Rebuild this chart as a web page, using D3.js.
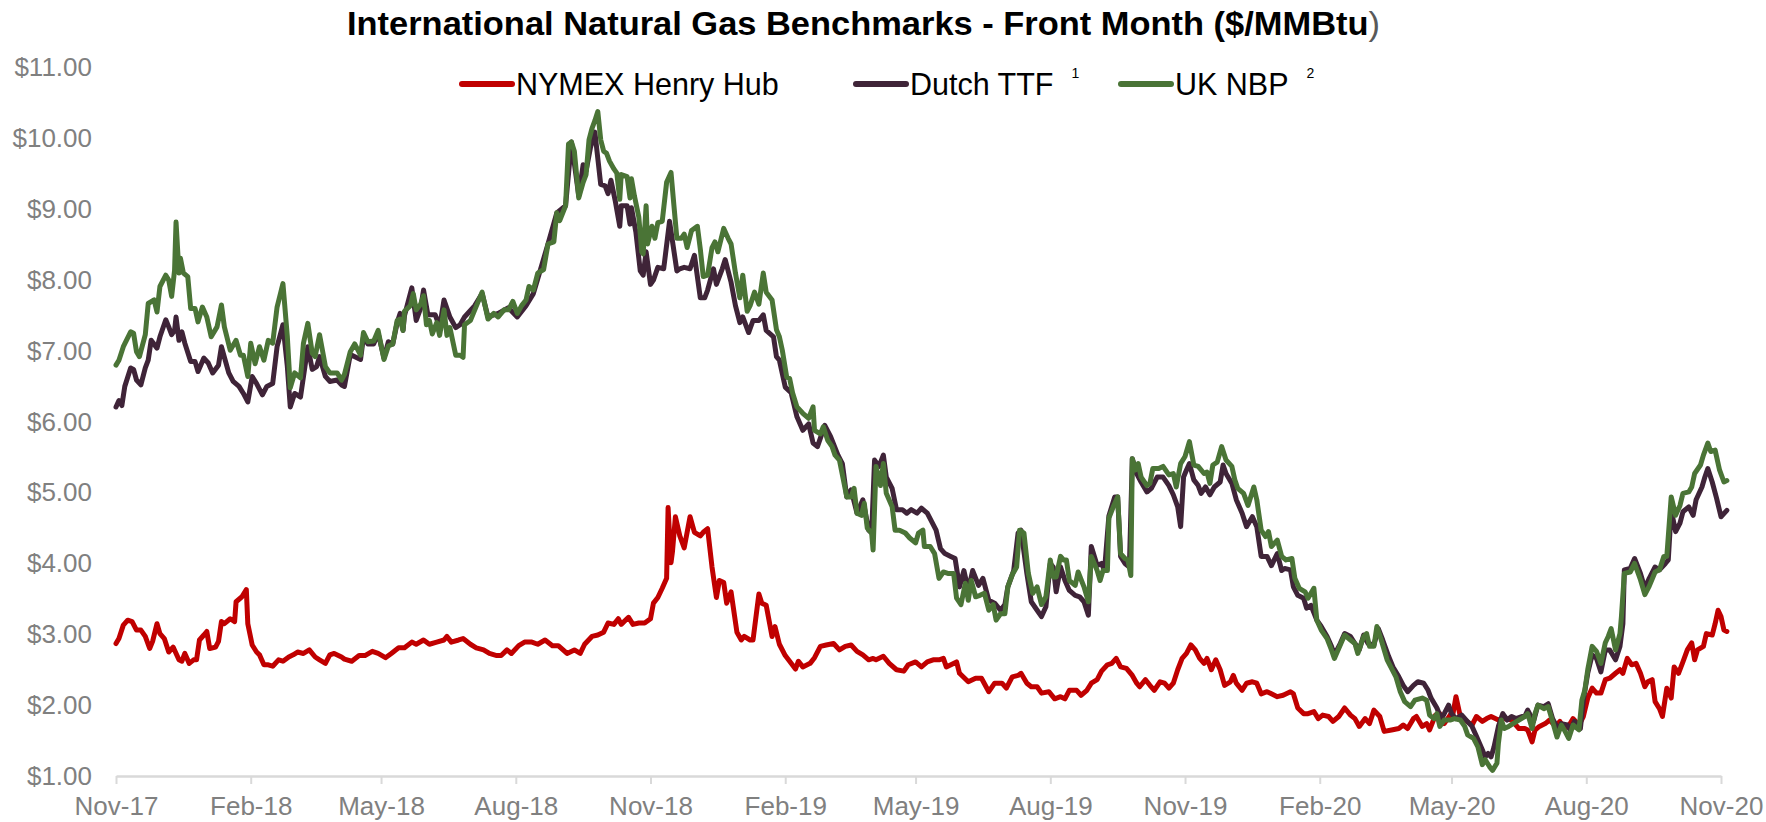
<!DOCTYPE html>
<html>
<head>
<meta charset="utf-8">
<script src="https://cdn.jsdelivr.net/npm/d3@7"></script>
<style>
  html, body { margin: 0; padding: 0; background: #ffffff; }
  svg { display: block; }
</style>
</head>
<body>
<svg id="chart" width="1766" height="822"></svg>
<script>
// ---------------- DATA ----------------
// x values are days since 2017-11-01 (start of the chart), y values in $/MMBtu
const startDate = "2017-11-01";
const xTickLabels = ["Nov-17","Feb-18","May-18","Aug-18","Nov-18","Feb-19","May-19","Aug-19","Nov-19","Feb-20","May-20","Aug-20","Nov-20"];
const yTickValues = [1,2,3,4,5,6,7,8,9,10,11];
const seriesNames = ["NYMEX Henry Hub", "Dutch TTF", "UK NBP"];
const seriesNotes = ["", "1", "2"];

const henryHub = [
[0,2.87],[2,2.94],[5,3.13],[8,3.20],[11,3.18],[14,3.06],[17,3.06],[20,2.97],[23,2.80],[25,2.90],[28,3.15],[30,3.01],[33,2.94],[36,2.75],[39,2.82],[43,2.64],[45,2.62],[47,2.73],[50,2.59],[53,2.64],[55,2.64],[57,2.92],[60,2.99],[62,3.04],[64,2.80],[68,2.82],[70,2.90],[72,3.18],[74,3.15],[78,3.22],[81,3.18],[82,3.46],[86,3.53],[89,3.63],[90,3.15],[93,2.85],[96,2.75],[98,2.71],[101,2.57],[104,2.57],[107,2.55],[111,2.64],[114,2.62],[118,2.68],[121,2.71],[124,2.75],[128,2.73],[132,2.78],[136,2.68],[139,2.64],[143,2.59],[146,2.71],[149,2.73],[154,2.68],
[156,2.65],[161,2.62],[166,2.70],[170,2.70],[175,2.76],[179,2.73],[184,2.67],[188,2.73],[193,2.81],[197,2.81],[202,2.89],[205,2.86],[210,2.92],[214,2.86],[219,2.89],[224,2.92],[226,2.97],[229,2.89],[234,2.92],[237,2.94],[242,2.86],[246,2.81],[251,2.78],[255,2.73],[260,2.70],[263,2.70],[267,2.78],[270,2.73],[275,2.84],[279,2.89],[284,2.89],[288,2.86],[293,2.92],[298,2.84],[302,2.84],[308,2.73],[313,2.78],[317,2.73],
[320,2.86],[325,2.97],[329,2.99],[333,3.03],[336,3.16],[340,3.14],[343,3.22],[345,3.14],[350,3.24],[353,3.14],[357,3.16],[361,3.16],[365,3.22],[367,3.44],[370,3.52],[373,3.65],[376,3.79],[377,4.79],[379,4.01],[380,4.17],[382,4.66],[385,4.39],[388,4.22],[392,4.66],[395,4.44],[399,4.39],[401,4.44],[404,4.49],[407,3.95],[410,3.52],[412,3.76],[415,3.73],[417,3.44],[420,3.60],[424,3.03],[427,2.92],[429,2.97],[433,2.92],[435,2.92],[439,3.57],[441,3.44],[444,3.41],[448,2.97],[450,3.11],[453,2.86],[457,2.70],[460,2.62],[464,2.51],[466,2.62],[469,2.54],[474,2.59],[477,2.67],
[481,2.83],[485,2.85],[490,2.87],[494,2.78],[498,2.83],[502,2.85],[506,2.76],[510,2.71],[514,2.64],[517,2.66],[519,2.64],[524,2.69],[528,2.59],[533,2.50],[538,2.48],[541,2.57],[546,2.61],[550,2.54],[554,2.61],[558,2.64],[562,2.64],[565,2.66],[567,2.54],[574,2.61],[576,2.45],[582,2.33],[587,2.38],[591,2.38],[596,2.19],[600,2.31],[605,2.31],[608,2.24],[612,2.40],[616,2.42],[618,2.45],[622,2.31],[625,2.26],[629,2.26],[632,2.17],[637,2.19],
[641,2.09],[645,2.12],[648,2.09],[651,2.21],[656,2.21],[659,2.14],[663,2.21],[666,2.31],[670,2.36],[673,2.48],[677,2.57],[680,2.59],[683,2.66],[686,2.54],[690,2.52],[694,2.42],[697,2.31],[699,2.26],[703,2.36],[706,2.28],[709,2.21],[713,2.33],[716,2.31],[719,2.24],[722,2.31],[725,2.50],[728,2.66],[731,2.73],[734,2.85],[737,2.78],[740,2.66],[743,2.59],[745,2.66],[748,2.50],[751,2.64],[754,2.50],[757,2.28],[761,2.33],[763,2.42],[765,2.31],[769,2.21],[772,2.31],[776,2.33],[779,2.31],[782,2.16],[786,2.19],[789,2.16],[793,2.12],[797,2.14],
[802,2.19],[804,2.16],[807,1.96],[811,1.88],[814,1.88],[818,1.91],[821,1.81],[824,1.86],[828,1.84],[831,1.77],[835,1.84],[839,1.96],[843,1.86],[846,1.81],[849,1.70],[853,1.81],[856,1.74],[859,1.93],[863,1.84],[866,1.63],[871,1.65],[876,1.67],[879,1.72],[882,1.67],[886,1.81],[888,1.84],[892,1.70],[895,1.74],[897,1.65],[901,1.86],[904,1.88],[907,1.74],[911,1.86],[913,1.88],[915,2.12],[918,1.84],[921,1.79],[926,1.72],[929,1.84],[933,1.77],[936,1.81],[939,1.84],[944,1.79],[948,1.81],[953,1.79],[958,1.67],
[962,1.67],[964,1.65],[967,1.48],[969,1.65],[972,1.70],[976,1.74],[979,1.79],[983,1.70],[986,1.77],[989,1.67],[993,1.74],[995,1.81],[999,1.72],[1002,1.84],[1005,2.10],[1008,2.24],[1011,2.17],[1014,2.17],[1017,2.36],[1020,2.38],[1024,2.45],[1027,2.50],[1029,2.45],[1032,2.66],[1035,2.57],[1038,2.59],[1041,2.45],[1044,2.26],[1046,2.33],[1049,2.36],[1051,2.05],[1054,1.95],[1056,1.84],[1059,2.24],[1062,2.10],[1064,2.54],[1067,2.45],[1070,2.61],[1073,2.78],[1076,2.88],[1078,2.64],[1080,2.78],[1084,2.83],[1086,3.01],[1090,2.99],[1092,3.15],[1094,3.34],[1096,3.25],[1098,3.06],[1100,3.04]
];

const dutchTTF = [
[0,6.21],[2,6.30],[4,6.23],[6,6.50],[10,6.76],[12,6.74],[14,6.59],[17,6.52],[20,6.76],[22,6.87],[24,7.15],[28,7.04],[30,7.20],[34,7.44],[36,7.34],[38,7.23],[40,7.29],[41,7.48],[43,7.15],[45,7.27],[47,7.11],[51,6.85],[54,6.85],[56,6.71],[60,6.90],[63,6.83],[66,6.69],[70,6.80],[72,7.06],[77,6.69],[80,6.57],[84,6.50],[87,6.40],[90,6.28],[93,6.64],[96,6.54],[100,6.38],[103,6.50],[107,6.54],[110,7.06],[114,7.37],[117,6.78],[119,6.21],[122,6.40],[126,6.35],[129,6.78],[131,7.06],[134,6.74],[137,6.78],[139,6.92],[143,6.64],[146,6.57],[151,6.59],[154,6.52],
[156,6.50],[160,6.95],[167,6.88],[169,7.20],[172,7.10],[176,7.10],[179,7.25],[183,6.90],[186,7.13],[189,7.10],[192,7.40],[194,7.53],[196,7.29],[197,7.50],[202,7.89],[205,7.43],[208,7.60],[210,7.86],[213,7.51],[218,7.51],[221,7.34],[224,7.72],[228,7.48],[232,7.33],[235,7.37],[238,7.48],[245,7.64],[250,7.81],[254,7.48],[261,7.53],[268,7.61],[274,7.48],[280,7.64],[285,7.81],[288,8.02],[295,8.51],[301,8.95],[307,9.05],[311,9.95],[316,9.19],
[319,9.63],[321,9.54],[324,9.87],[327,10.09],[331,9.35],[334,9.33],[336,9.22],[338,9.41],[341,9.11],[344,8.76],[345,9.05],[349,9.05],[351,8.79],[352,9.02],[355,8.68],[358,8.13],[360,8.07],[362,8.40],[365,7.94],[367,8.00],[370,8.18],[374,8.16],[378,8.83],[383,8.13],[385,8.16],[388,8.18],[392,8.16],[395,8.35],[399,7.75],[402,7.75],[404,7.86],[408,8.16],[410,7.94],[414,8.16],[416,8.29],[420,7.97],[423,7.64],[426,7.40],[428,7.48],[432,7.26],[435,7.43],[439,7.43],[442,7.51],[444,7.29],
[449,7.20],[451,6.92],[453,6.87],[457,6.49],[461,6.41],[465,6.07],[469,5.88],[473,5.97],[476,5.70],[479,5.65],[484,5.95],[488,5.79],[493,5.53],
[496,5.41],[499,4.94],[502,5.04],[506,4.71],[510,4.90],[514,4.47],[516,4.43],[518,5.46],[521,5.37],[524,5.53],[526,5.22],[530,5.06],[533,4.76],[537,4.76],[540,4.71],[543,4.76],[547,4.71],[550,4.78],[554,4.71],[557,4.59],[560,4.47],[563,4.21],[566,4.14],[570,4.10],[573,4.07],[576,3.67],[579,3.90],[582,3.62],[585,3.90],[589,3.69],[592,3.79],[596,3.48],[600,3.44],[604,3.34],[607,3.42],[609,3.67],[613,3.90],[616,4.43],[618,4.47],[622,3.86],[625,3.46],[629,3.34],[632,3.25],[635,3.39],[638,4.00],
[640,3.95],[642,3.60],[645,3.95],[648,3.76],[651,3.62],[655,3.55],[658,3.53],[661,3.46],[664,3.27],[666,4.24],[670,3.97],[673,4.00],[675,3.90],[678,4.67],[682,4.94],[684,4.94],[686,4.10],[689,4.00],[692,3.95],[694,5.48],[697,5.27],[700,5.15],[704,5.01],[707,5.06],[711,5.22],[715,5.22],[719,5.10],[722,4.97],[725,4.80],[727,4.52],[729,5.22],[731,5.32],[733,5.41],[736,5.18],[739,5.10],[741,4.99],[744,5.08],[747,4.97],[750,5.08],[754,5.15],[756,5.39],[758,5.27],[762,5.13],[765,4.90],[769,4.71],[772,4.52],[776,4.66],[779,4.52],[782,4.10],[786,4.10],[789,3.97],[793,4.14],[796,3.90],
[798,3.93],[802,3.91],[804,3.67],[807,3.55],[811,3.51],[813,3.37],[816,3.41],[820,3.20],[823,3.11],[827,2.97],[830,2.83],[832,2.71],[836,2.87],[839,3.01],[843,2.97],[846,2.87],[849,2.78],[852,2.99],[855,2.87],[859,2.85],[862,3.08],[865,2.92],[869,2.69],[872,2.54],[876,2.40],[879,2.28],[882,2.19],[886,2.28],[889,2.33],[893,2.31],[896,2.21],[898,2.10],[902,1.96],[905,1.81],[907,1.88],[910,2.00],[912,1.88],[915,1.81],[919,1.86],[922,1.79],[926,1.70],[929,1.56],[933,1.37],[935,1.27],[937,1.32],[939,1.27],[941,1.41],[944,1.70],[947,1.88],[950,1.79],[953,1.84],[956,1.81],[960,1.84],
[962,1.84],[964,1.93],[968,1.77],[971,2.00],[975,1.98],[978,2.02],[981,1.81],[985,1.65],[987,1.74],[991,1.72],[993,1.65],[996,1.77],[1000,1.67],[1002,2.07],[1005,2.45],[1008,2.71],[1011,2.66],[1014,2.47],[1017,2.78],[1020,2.78],[1024,2.64],[1027,2.83],[1029,3.15],[1030,3.91],[1034,3.93],[1037,4.07],[1041,3.86],[1044,3.65],[1047,3.79],[1051,3.95],[1054,3.91],[1058,4.00],[1060,4.05],[1062,4.75],[1065,4.45],[1068,4.57],[1070,4.73],[1074,4.80],[1077,4.68],[1079,4.90],[1083,5.08],[1085,5.22],[1087,5.34],[1090,5.15],[1093,4.92],[1096,4.66],[1100,4.75]
];

const ukNBP = [
[0,6.80],[2,6.87],[5,7.06],[10,7.27],[12,7.25],[14,6.99],[16,6.92],[20,7.23],[22,7.67],[26,7.72],[28,7.55],[30,7.91],[34,8.07],[36,8.00],[38,7.77],[40,8.14],[41,8.82],[43,8.10],[44,8.31],[46,8.10],[49,8.05],[51,7.60],[54,7.60],[56,7.41],[59,7.62],[62,7.48],[65,7.20],[69,7.34],[72,7.65],[74,7.34],[78,7.01],[82,7.15],[85,6.94],[87,6.94],[90,6.64],[92,7.11],[95,6.82],[98,7.06],[101,6.87],[104,7.15],[107,7.11],[110,7.62],[114,7.95],[117,7.20],[119,6.48],[122,6.69],[126,6.62],[128,7.11],[131,7.39],[134,6.97],[136,6.92],[139,7.23],[143,6.78],[146,6.69],[151,6.69],[154,6.59],
[156,6.67],[160,6.99],[163,7.10],[167,6.94],[169,7.26],[172,7.13],[176,7.14],[179,7.29],[183,6.88],[186,7.07],[189,7.10],[192,7.43],[194,7.45],[196,7.29],[197,7.56],[201,7.64],[203,7.81],[205,7.58],[208,7.66],[210,7.78],[212,7.37],[214,7.43],[216,7.24],[219,7.40],[221,7.22],[224,7.58],[226,7.22],[228,7.33],[232,6.94],[235,6.94],[237,6.91],[238,7.37],[242,7.43],[245,7.58],[250,7.83],[252,7.64],[254,7.45],[258,7.53],[261,7.48],[265,7.58],[268,7.58],[271,7.70],[274,7.53],[277,7.64],[280,7.72],[282,7.91],[285,7.86],[288,8.10],[292,8.15],[295,8.51],[299,8.54],[301,8.95],[303,8.84],[307,9.05],[309,9.92],[311,9.95],[313,9.82],[316,9.16],
[319,9.38],[321,9.49],[323,9.98],[325,10.14],[327,10.25],[329,10.38],[331,9.98],[333,9.82],[335,9.79],[337,9.68],[340,9.57],[342,9.51],[344,9.14],[345,9.49],[349,9.46],[351,9.16],[352,9.43],[354,9.19],[357,8.89],[359,8.40],[360,8.37],[362,9.05],[363,8.51],[366,8.76],[368,8.59],[370,8.81],[373,8.83],[376,9.38],[379,9.52],[381,9.05],[383,8.59],[386,8.59],[388,8.65],[390,8.46],[393,8.70],[397,8.76],[399,8.44],[401,8.05],[404,8.07],[407,8.46],[409,8.54],[411,8.40],[415,8.73],[418,8.59],[420,8.51],[423,8.10],[426,7.75],[428,8.07],[431,7.56],[433,7.64],[436,7.83],[439,7.66],[442,8.10],[444,7.83],
[448,7.72],[451,7.30],[453,7.20],[455,7.01],[458,6.63],[460,6.61],[462,6.41],[465,6.21],[469,6.12],[473,6.05],[476,6.21],[477,5.88],[481,5.83],[483,5.93],[486,5.74],[489,5.65],[491,5.53],
[494,5.46],[497,5.15],[499,4.94],[502,4.94],[504,5.06],[506,4.71],[509,4.68],[511,4.85],[513,4.50],[516,4.43],[517,4.19],[519,5.37],[522,5.10],[524,5.41],[526,4.99],[530,4.80],[532,4.47],[535,4.47],[539,4.43],[542,4.36],[546,4.29],[548,4.43],[551,4.47],[552,4.24],[556,4.24],[559,4.14],[562,3.79],[565,3.88],[568,3.86],[572,3.86],[574,3.51],[577,3.42],[580,3.72],[582,3.48],[584,3.76],[587,3.53],[590,3.55],[593,3.58],[596,3.34],[599,3.42],[601,3.20],[604,3.29],[607,3.29],[609,3.67],[612,3.84],[615,3.95],[617,4.47],[620,4.43],[623,3.86],[626,3.58],[629,3.67],[632,3.42],[635,3.53],
[638,4.05],[640,3.81],[642,3.81],[645,4.10],[647,4.05],[649,4.05],[651,3.76],[655,3.69],[657,3.88],[661,3.67],[664,3.46],[666,4.10],[670,3.90],[672,3.76],[674,3.90],[677,3.90],[678,4.64],[681,4.80],[684,4.94],[686,4.14],[689,4.07],[691,4.05],[693,3.83],[694,5.48],[696,5.32],[698,5.41],[700,5.22],[704,5.10],[706,5.13],[708,5.34],[712,5.34],[715,5.37],[719,5.25],[722,5.27],[724,5.08],[727,5.41],[730,5.51],[733,5.72],[736,5.39],[739,5.37],[743,5.27],[745,5.29],[747,5.13],[749,5.39],[752,5.43],[755,5.65],[758,5.46],[762,5.37],[764,5.18],[766,5.06],[770,4.99],[773,4.82],[777,5.08],[779,4.90],[782,4.47],[785,4.38],[787,4.45],[789,4.24],[793,4.33],[796,4.10],
[799,4.05],[803,4.07],[805,3.79],[808,3.65],[812,3.60],[814,3.51],[818,3.65],[820,3.20],[823,3.06],[827,2.94],[830,2.78],[832,2.66],[836,2.85],[839,2.99],[843,2.92],[846,2.87],[848,2.73],[852,2.97],[854,3.01],[856,2.83],[859,2.83],[861,3.11],[864,2.92],[868,2.64],[871,2.52],[874,2.40],[877,2.19],[880,2.05],[884,1.98],[887,2.07],[892,2.10],[895,2.07],[897,1.86],[900,1.81],[902,1.88],[904,1.70],[907,1.79],[911,1.79],[914,1.81],[918,1.79],[921,1.70],[923,1.58],[927,1.53],[930,1.41],[933,1.16],[935,1.23],[938,1.13],[940,1.08],[943,1.18],[944,1.46],[946,1.79],[948,1.67],[951,1.70],[954,1.74],[958,1.79],
[962,1.84],[964,1.88],[967,1.67],[969,1.88],[971,2.00],[975,1.95],[978,1.98],[981,1.77],[984,1.55],[987,1.72],[989,1.65],[992,1.53],[995,1.72],[999,1.65],[1001,2.07],[1003,2.21],[1005,2.50],[1008,2.83],[1011,2.76],[1014,2.59],[1017,2.88],[1019,2.97],[1021,3.08],[1024,2.78],[1027,3.01],[1028,3.25],[1030,3.86],[1034,3.88],[1037,4.00],[1041,3.77],[1044,3.56],[1047,3.68],[1051,3.88],[1054,3.91],[1057,4.10],[1059,4.10],[1062,4.94],[1065,4.68],[1068,4.82],[1070,4.99],[1074,5.01],[1076,5.08],[1078,5.27],[1082,5.39],[1084,5.53],[1087,5.70],[1089,5.58],[1092,5.60],[1095,5.32],[1098,5.15],[1100,5.17]
];

// ---------------- DRAWING ----------------
const seriesData = [henryHub, dutchTTF, ukNBP];
const colors = ["#C00000", "#3F2438", "#4A7436"];
const FONT = "'Liberation Sans', Arial, sans-serif";

const svg = d3.select("#chart");
const parseDate = d3.timeParse("%Y-%m-%d");
const start = parseDate(startDate);
const toDate = d => d3.timeDay.offset(start, d);

const tickDates = xTickLabels.map(s => d3.timeParse("%b-%y")(s));

const x = d3.scaleTime()
  .domain([tickDates[0], tickDates[tickDates.length - 1]])
  .range([116, 1721]);
const y = d3.scaleLinear().domain([1, 11]).range([776, 67.6]);

// Title
const title = svg.append("text")
  .attr("x", 347).attr("y", 35)
  .attr("font-family", FONT)
  .attr("font-size", 34)
  .attr("fill", "#000");
title.append("tspan").attr("font-weight", "bold")
  .text("International Natural Gas Benchmarks - Front Month ($/MMBtu");
title.append("tspan").attr("font-weight", "normal").attr("fill", "#595959").text(")");
{
  const node = title.node();
  const w = node.getComputedTextLength();
  const target = 1380 - 347;
  if (Math.abs(w - target) > 4) {
    title.attr("textLength", target).attr("lengthAdjust", "spacingAndGlyphs");
  }
}

// Y axis (labels only)
const yAxis = d3.axisLeft(y)
  .tickValues(yTickValues)
  .tickSize(0)
  .tickPadding(24)
  .tickFormat(d => "$" + d3.format(".2f")(d));
const gy = svg.append("g").attr("transform", "translate(116,0)").call(yAxis);
gy.select(".domain").remove();
gy.selectAll("text")
  .attr("font-family", FONT)
  .attr("font-size", 26)
  .attr("fill", "#808080");

// X axis
const xAxis = d3.axisBottom(x)
  .tickValues(tickDates)
  .tickSize(8)
  .tickSizeOuter(0)
  .tickPadding(13)
  .tickFormat((d, i) => xTickLabels[i]);
const gx = svg.append("g").attr("transform", "translate(0,776)").call(xAxis);
gx.select(".domain").attr("stroke", "#D9D9D9").attr("stroke-width", 2.5);
gx.selectAll(".tick line").attr("stroke", "#D9D9D9").attr("stroke-width", 2);
gx.selectAll("text")
  .attr("font-family", FONT)
  .attr("font-size", 26)
  .attr("fill", "#808080");

// Lines
const line = d3.line()
  .x(d => x(toDate(d[0])))
  .y(d => y(d[1]));

svg.append("g").selectAll("path")
  .data(seriesData)
  .join("path")
  .attr("d", line)
  .attr("fill", "none")
  .attr("stroke", (d, i) => colors[i])
  .attr("stroke-width", 5)
  .attr("stroke-linejoin", "round")
  .attr("stroke-linecap", "round");

// Legend
const legendX = [462, 856, 1121];
const legend = svg.append("g");
seriesNames.forEach((name, i) => {
  const g = legend.append("g").attr("transform", `translate(${legendX[i]},84)`);
  g.append("line")
    .attr("x1", 0).attr("x2", 50).attr("y1", 0).attr("y2", 0)
    .attr("stroke", colors[i]).attr("stroke-width", 6)
    .attr("stroke-linecap", "round");
  const t = g.append("text")
    .attr("x", 54).attr("y", 11)
    .attr("font-family", FONT)
    .attr("font-size", 30.5)
    .attr("fill", "#000")
    .text(name);
  if (seriesNotes[i]) {
    const tw = t.node().getComputedTextLength();
    g.append("text")
      .attr("x", 54 + tw + 18).attr("y", -6)
      .attr("font-family", FONT)
      .attr("font-size", 14)
      .attr("fill", "#000")
      .text(seriesNotes[i]);
  }
});
</script>
</body>
</html>
